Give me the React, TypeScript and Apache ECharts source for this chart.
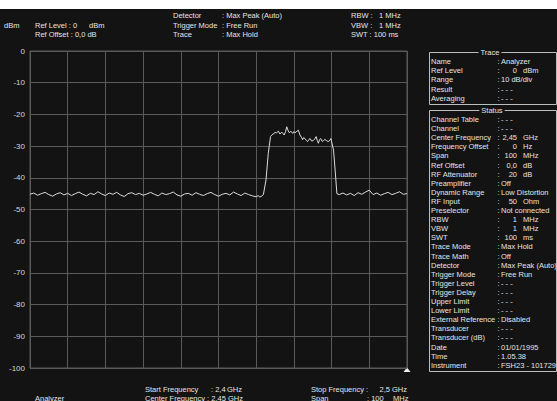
import React, { useEffect, useRef } from "react";
import * as echarts from "echarts";

// Trace: frequency offset from 2.4 GHz start (MHz) and level (dBm)
const freqMHz = [
  0, 1, 2, 3, 4, 5, 6, 7, 8, 9, 10, 11, 12, 13, 14, 15, 16, 17, 18, 19,
  20, 21, 22, 23, 24, 25, 26, 27, 28, 29, 30, 31, 32, 33, 34, 35, 36, 37, 38, 39,
  40, 41, 42, 43, 44, 45, 46, 47, 48, 49, 50, 51, 52, 53, 54, 55, 56, 57, 58, 59,
  60, 60.5, 61, 61.5, 61.9, 62.6, 63.2, 63.8, 64.2, 64.5, 65.0, 65.4, 65.9, 66.3, 66.8, 67.1, 67.4, 67.8, 68.1,
  68.5, 68.8, 69.2, 69.7, 70.0, 70.3, 70.8, 71.2, 71.6, 72.0, 72.3, 72.6, 72.9, 73.3, 73.6, 74.0, 74.3, 74.7,
  75.1, 75.5, 75.9, 76.2, 76.5, 76.8, 77.1, 77.5, 77.8, 78.2, 78.7, 79.1, 79.6, 79.8, 80.5, 81.0, 81.4,
  82, 83, 84, 85, 86, 87, 88, 89, 90, 91, 92, 93, 94, 95, 96, 97, 98, 99, 100,
];
const levelDbm = [
  -45.2, -44.8, -45.5, -45.0, -44.6, -45.3, -45.8, -45.1, -44.7, -45.4, -44.9, -45.6, -45.0, -44.5, -45.2, -45.7, -44.9, -45.3, -44.4, -45.1,
  -45.6, -44.8, -45.2, -44.6, -45.4, -45.9, -45.0, -44.7, -45.3, -44.9, -45.5, -45.1, -44.6, -45.2, -45.7, -44.8, -45.3, -45.0, -44.5, -45.4,
  -45.8, -45.1, -44.9, -45.5, -44.7, -45.2, -45.6, -45.0, -44.6, -45.3, -45.8, -45.2, -44.9, -45.4, -44.5, -45.1, -45.6, -44.8, -45.3, -45.7,
  -46.0, -45.6, -46.1, -45.7, -45.3, -40.7, -32.3, -27.0, -26.4, -26.2, -25.7, -25.8, -25.3, -26.2, -25.6, -26.0, -26.5, -25.4, -23.9,
  -25.2, -25.8, -25.3, -26.0, -25.4, -25.8, -25.3, -25.0, -26.5, -27.2, -28.0, -27.3, -27.6, -28.2, -28.6, -27.9, -27.6, -28.4,
  -28.3, -27.8, -27.0, -28.2, -29.1, -28.0, -27.6, -28.5, -28.3, -27.9, -28.3, -28.6, -28.1, -27.6, -31.2, -38.5, -45.0,
  -45.3, -44.8, -45.4, -44.9, -45.6, -44.7, -45.2, -44.5, -43.9, -45.3, -44.8, -45.5, -45.0, -44.6, -45.3, -44.9, -44.4, -45.2, -45.0,
];

const yTicks = { min: -100, max: 0, step: 10 };
const xTicks = { min: 0, max: 100, step: 10 };

const headerLeft = [
  ["Ref Level : 0", "dBm"],
  ["Ref Offset : 0,0 dB", ""],
];
const headerMidLabels = ["Detector", "Trigger Mode", "Trace"];
const headerMidValues = [": Max Peak (Auto)", ": Free Run", ": Max Hold"];
const headerRight = [
  ["RBW :", "1 MHz"],
  ["VBW :", "1 MHz"],
  ["SWT : 100 ms", ""],
];

const traceLabels = ["Name", "Ref Level", "Range", "Result", "Averaging"];
const traceValues: [string, string][] = [
  ["Analyzer", ""],
  ["0", "dBm"],
  ["10 dB/div", ""],
  ["- - -", ""],
  ["- - -", ""],
];
const statusLabels = [
  "Channel Table", "Channel", "Center Frequency", "Frequency Offset", "Span", "Ref Offset",
  "RF Attenuator", "Preamplifier", "Dynamic Range", "RF Input", "Preselector", "RBW", "VBW",
  "SWT", "Trace Mode", "Trace Math", "Detector", "Trigger Mode", "Trigger Level", "Trigger Delay",
  "Upper Limit", "Lower Limit", "External Reference", "Transducer", "Transducer (dB)", "Date",
  "Time", "Instrument",
];
const statusValues: [string, string][] = [
  ["- - -", ""], ["- - -", ""], ["2,45", "GHz"], ["0", "Hz"], ["100", "MHz"], ["0,0", "dB"],
  ["20", "dB"], ["Off", ""], ["Low Distortion", ""], ["50", "Ohm"], ["Not connected", ""],
  ["1", "MHz"], ["1", "MHz"], ["100", "ms"], ["Max Hold", ""], ["Off", ""],
  ["Max Peak (Auto)", ""], ["Free Run", ""], ["- - -", ""], ["- - -", ""], ["- - -", ""],
  ["- - -", ""], ["Disabled", ""], ["- - -", ""], ["- - -", ""], ["01/01/1995", ""],
  ["1.05.38", ""], ["FSH23 - 101729", ""],
];

const BG = "#131313";
const TXT = "#e4e4e4";
const GRID = "#5a5a5a";
const FONT = '7.5px "Liberation Sans", Arial, sans-serif';

function txt(text: string, x: number, y: number, align = "left", extra: any = {}) {
  return {
    type: "text",
    silent: true,
    style: { text, x, y, fill: TXT, font: FONT, align, verticalAlign: "middle", ...extra },
  };
}

function valueTexts(vals: [string, string][], y0: number, dy: number) {
  const out: any[] = [];
  vals.forEach(([v, u], i) => {
    const y = y0 + i * dy;
    out.push(txt(":", 497.5, y));
    if (u) {
      out.push(txt(v, 517, y, "right"));
      out.push(txt(u, 523, y));
    } else {
      out.push(txt(v, 501, y));
    }
  });
  return out;
}

export default function App() {
  const ref = useRef<HTMLDivElement>(null);
  useEffect(() => {
    if (!ref.current) return;
    const chart = echarts.init(ref.current, null, { renderer: "svg" });
    const data = freqMHz.map((f, i) => [f, levelDbm[i]]);

    const graphics: any[] = [];
    graphics.push({ type: "rect", shape: { x: 0, y: 0, width: 557, height: 9 }, style: { fill: "#ffffff" }, silent: true });
    graphics.push(txt("dBm", 4, 25));
    headerLeft.forEach(([a, b], i) => {
      graphics.push(txt(a, 35, 25 + i * 9.3));
      if (b) graphics.push(txt(b, 89, 25 + i * 9.3));
    });
    headerMidLabels.forEach((l, i) => {
      const y = 15.7 + i * 9.3;
      graphics.push(txt(l, 173, y));
      graphics.push(txt(headerMidValues[i], 222, y));
    });
    headerRight.forEach(([a, b], i) => {
      const y = 15.7 + i * 9.3;
      graphics.push(txt(a, 351, y));
      if (b) graphics.push(txt(b, 379, y));
    });

    // Side panel frames
    graphics.push({ type: "rect", silent: true, shape: { x: 429.5, y: 52.5, width: 127, height: 52 }, style: { fill: "none", stroke: "#bdbdbd", lineWidth: 1 } });
    graphics.push({ type: "rect", silent: true, shape: { x: 429.5, y: 110.5, width: 127, height: 261 }, style: { fill: "none", stroke: "#bdbdbd", lineWidth: 1 } });
    graphics.push(txt("Trace", 490, 52.5, "center", { backgroundColor: BG, padding: [0, 2] }));
    graphics.push(txt("Status", 492, 110.5, "center", { backgroundColor: BG, padding: [0, 2] }));
    traceLabels.forEach((l, i) => graphics.push(txt(l, 431, 61.7 + i * 9.1)));
    graphics.push(...valueTexts(traceValues, 61.7, 9.1));
    statusLabels.forEach((l, i) => graphics.push(txt(l, 431, 119.5 + i * 9.1)));
    graphics.push(...valueTexts(statusValues, 119.5, 9.1));

    // Marker triangle
    graphics.push({ type: "polygon", silent: true, shape: { points: [[407, 367.5], [410.5, 372], [403.5, 372]] }, style: { fill: "#f0f0f0" } });

    // Bottom info
    graphics.push(txt("Start Frequency", 145, 389.5));
    graphics.push(txt(": 2,4", 211, 389.5));
    graphics.push(txt("GHz", 227, 389.5));
    graphics.push(txt("Center Frequency : 2,45 GHz", 145, 398.5));
    graphics.push(txt("Analyzer", 35, 398.5));
    graphics.push(txt("Stop Frequency :", 311, 389.5));
    graphics.push(txt("2,5 GHz", 407, 389.5, "right"));
    graphics.push(txt("Span", 311, 398.5));
    graphics.push(txt(": 100", 367, 398.5));
    graphics.push(txt("MHz", 393, 398.5));

    chart.setOption({
      animation: false,
      backgroundColor: BG,
      grid: { left: 30, top: 51, width: 377, height: 317, show: true, borderColor: GRID, borderWidth: 1, backgroundColor: "transparent" },
      xAxis: {
        type: "value",
        min: xTicks.min,
        max: xTicks.max,
        interval: xTicks.step,
        axisLabel: { show: false },
        axisTick: { show: false },
        axisLine: { show: false },
        splitLine: { show: true, lineStyle: { color: GRID, width: 1 } },
      },
      yAxis: {
        type: "value",
        min: yTicks.min,
        max: yTicks.max,
        interval: yTicks.step,
        axisLabel: { color: "#d6d6d6", fontSize: 8, fontFamily: '"Liberation Sans", Arial, sans-serif', margin: 5 },
        axisTick: { show: false },
        axisLine: { show: false },
        splitLine: { show: true, lineStyle: { color: GRID, width: 1 } },
      },
      series: [
        {
          type: "line",
          data,
          showSymbol: false,
          symbol: "none",
          lineStyle: { color: "#dcdcdc", width: 1 },
          silent: true,
        },
      ],
      graphic: graphics,
    });
    return () => chart.dispose();
  }, []);
  return <div ref={ref} style={{ position: "absolute", left: 0, top: 0, width: 557, height: 401 }} />;
}
